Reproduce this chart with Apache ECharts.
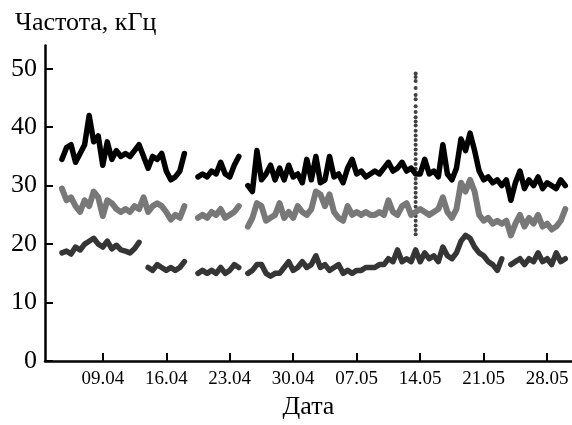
<!DOCTYPE html>
<html><head><meta charset="utf-8">
<script src="https://cdn.jsdelivr.net/npm/echarts@6/dist/echarts.min.js"></script>
<style>html,body{margin:0;padding:0;background:#fff}#c{width:572px;height:425px}</style>
</head><body><div id="c"></div>
<script>
// x is measured in "day of April" (1.05 = day 31)
const startDay = 4;
const stepDays = 0.5;
const tickDays = [9, 16, 23, 30, 37, 44, 51, 58];
const tickLabels = ['09.04', '16.04', '23.04', '30.04', '07.05', '14.05', '21.05', '28.05'];
const yTicks = [0, 10, 20, 30, 40, 50];

const blackVals = [
  null,34.5,36.5,37,34,35.5,37,42,37.5,38.5,
  33.5,37.5,34.5,36,35,35.5,35,36,37,35,
  33,35,34.5,35.5,32.5,31,31.5,32.5,35.5,null,
  null,31.5,32,31.5,32.5,32,34,32,31.5,33.5,
  35,null,30,29,36,31,32,33.5,31,33,
  31,33.5,31.5,32,30.5,34.5,31,35,30.5,31,
  35,31.5,32,30.5,33,34.5,32,32.5,31.5,32,
  32.5,32,33,34,32.5,33,34,32.5,33,32,
  32,34.5,32,32.5,31.5,37,32,31,33,38,
  36,39,36,32.5,31,31.5,30.5,31,30,31,
  27.5,30.5,32.5,29.5,31,30,31.5,29.5,30.5,30,
  29.5,31,30
];
const grayVals = [
  null,29.5,27.5,28,26.5,25.5,27.5,26.5,29,28,
  24.8,27.5,27,26,25.5,26,25.5,26.5,26,28,
  25.5,26.5,27,26.5,25.5,24.2,25,24.5,26.5,null,
  null,24.5,25,24.5,25.5,25,26,24.5,25,25.5,
  26.5,null,23,24.5,27,26.5,24,24.5,25,27,
  24.5,25.5,24.5,26.5,25.5,25,26,29,28.5,26.5,
  28.5,25.5,24.5,24,26.5,25,25.5,25,25.5,25,
  25,25.5,25,27.5,25.5,25,26.5,27,25,25.5,
  26,25.5,25,25.5,26,28,25.5,24.5,26,30.5,
  29,31,29,25,24,24.5,23.5,24,23.5,24,
  21.5,23.5,25,23,24.5,23.5,25,23,23.5,22.5,
  23,24,26
];
const darkVals = [
  null,18.5,18.8,18.3,19.5,19,20,20.5,21,20,
  19.5,20.5,19.2,19.8,19,18.8,18.5,19.2,20.3,null,
  16,15.5,16.5,16,15.5,16,15.5,16,17,null,
  null,15,15.5,15,15.5,15,16,15,15.5,16.5,
  16,null,15,15.5,16.5,16.5,15,14.5,15,15,
  16,17,15.5,16,17,16,16.5,18,16,16.5,
  15.5,16,16.5,15,15.5,15,15.5,15.5,16,16,
  16,16.5,16.5,17.5,17,19,17,17.5,17,19,
  17,18.5,17.5,18,17,19.5,18,17.5,18.5,20.5,
  21.5,21,19.5,18.5,18,17,16.5,15.5,17.5,null,
  16.5,17,17.5,16.5,17.5,17,18.5,17,17.5,16.5,
  18.5,17,17.5
];
// the dotted vertical burst near 14.05
const spikeDay = 43.5;
const spikeVals = [49.2,48.6,47.9,46.7,45.5,44.8,43.6,42.6,41.7,41,40.3,39.4,38.6,37.8,37,36.2,35.4,34.5,33.7,32.9,32,31.2,30.4,29.6,28.8,28,27.2,26.4,25.6,24.8,24,23.2,22.4,21.7];

function pairs(vals) { return vals.map((v, i) => [startDay + i * stepDays, v]); }

const FONT = 'Liberation Serif';
const chart = echarts.init(document.getElementById('c'));
chart.setOption({
  animation: false,
  backgroundColor: '#fff',
  title: { text: 'Частота, кГц', left: 10, top: 5, textStyle: { fontFamily: FONT, fontSize: 26, fontWeight: 'normal', color: '#000' } },
  grid: { left: 45, right: 0, top: 45.4, bottom: 54.5 },
  xAxis: {
    type: 'value', min: 2.63, max: 60.74,
    name: 'Дата', nameLocation: 'middle', nameGap: 33,
    nameTextStyle: { fontFamily: FONT, fontSize: 26, color: '#000' },
    axisLine: { lineStyle: { color: '#000', width: 2.5 } },
    axisTick: { inside: true, length: 8, customValues: tickDays, lineStyle: { color: '#000', width: 2 } },
    axisLabel: { customValues: tickDays, margin: 9, fontFamily: FONT, fontSize: 19, color: '#000',
      formatter: v => tickLabels[tickDays.indexOf(Math.round(v))] || '' },
    splitLine: { show: false }
  },
  yAxis: {
    type: 'value', min: 0, max: 54,
    axisLine: { show: true, lineStyle: { color: '#000', width: 2.5 } },
    axisTick: { show: true, inside: true, length: 8, customValues: yTicks, lineStyle: { color: '#000', width: 2 } },
    axisLabel: { customValues: yTicks, margin: 8, fontFamily: FONT, fontSize: 26, color: '#000' },
    splitLine: { show: false }
  },
  series: [
    { type: 'line', data: pairs(darkVals), symbol: 'none', connectNulls: false,
      lineStyle: { color: '#353535', width: 5.5, join: 'round', cap: 'round' } },
    { type: 'line', data: pairs(grayVals), symbol: 'none', connectNulls: false,
      lineStyle: { color: '#787878', width: 6, join: 'round', cap: 'round' } },
    { type: 'line', data: pairs(blackVals), symbol: 'none', connectNulls: false,
      lineStyle: { color: '#000', width: 5.5, join: 'round', cap: 'round' } },
    { type: 'scatter', data: spikeVals.map(v => [spikeDay, v]), symbolSize: 4,
      itemStyle: { color: '#111' } }
  ]
});
</script>
</body></html>
